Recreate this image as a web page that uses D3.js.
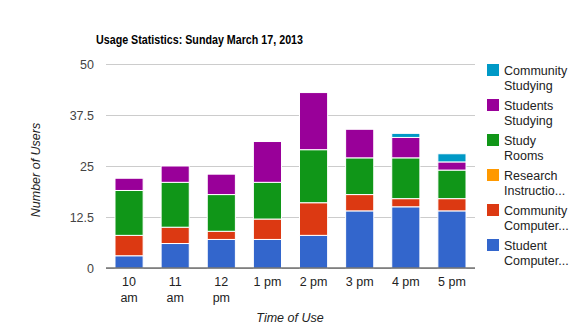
<!DOCTYPE html>
<html><head><meta charset="utf-8">
<script src="https://cdn.jsdelivr.net/npm/d3@7"></script>
<style>body{margin:0;background:#fff}svg{display:block;font-family:"Liberation Sans",Arial,sans-serif}</style>
</head><body><svg id="c" width="580" height="332"></svg>
<script>
const categories = ["10 am","11 am","12 pm","1 pm","2 pm","3 pm","4 pm","5 pm"];
const studentComputers   = [3, 6, 7, 7, 8, 14, 15, 14];
const communityComputers = [5, 4, 2, 5, 8, 4, 2, 3];
const researchInstruction= [0, 0, 0, 0, 0, 0, 0, 0];
const studyRooms         = [11, 11, 9, 9, 13, 9, 10, 7];
const studentsStudying   = [3, 4, 5, 10, 14, 7, 5, 2];
const communityStudying  = [0, 0, 0, 0, 0, 0, 1, 2];
const yTicks = [0, 12.5, 25, 37.5, 50];
const seriesNames = ["Student Computer...","Community Computer...","Research Instructio...","Study Rooms","Students Studying","Community Studying"];
const seriesColors = ["#3366cc","#dc3912","#ff9900","#109618","#990099","#0099c6"];
const seriesData = [studentComputers, communityComputers, researchInstruction, studyRooms, studentsStudying, communityStudying];

const svg = d3.select("#c");
const pL = 106, pR = 475, pT = 64, pB = 268;
const x = d3.scaleBand().domain(categories).range([pL, pR]).paddingInner(0.39).paddingOuter(0.195);
const y = d3.scaleLinear().domain([0, 50]).range([pB, pT]);

// title
svg.append("text").attr("x", 96).attr("y", 44).attr("font-size", 13.5).attr("font-weight", "bold")
  .attr("textLength", 207).attr("lengthAdjust", "spacingAndGlyphs")
  .attr("fill", "#000").text("Usage Statistics: Sunday March 17, 2013");

// gridlines
const ya = svg.append("g").attr("transform", `translate(${pL},0)`)
  .call(d3.axisLeft(y).tickValues(yTicks).tickSize(-(pR - pL)).tickPadding(12).tickFormat(d => d));
ya.select(".domain").remove();
ya.selectAll(".tick line").attr("stroke", "#cccccc");
ya.selectAll(".tick text").attr("font-size", 12.5).attr("fill", "#444").attr("font-family", "Liberation Sans, Arial, sans-serif");

// stacked
const rows = categories.map((c, i) => {
  const o = {cat: c};
  seriesNames.forEach((s, k) => o[s] = seriesData[k][i]);
  return o;
});
const stack = d3.stack().keys(seriesNames)(rows);
stack.forEach((layer, k) => {
  svg.append("g").selectAll("rect").data(layer.filter(d => d[1] - d[0] > 0)).join("rect")
    .attr("x", d => x(d.data.cat)).attr("width", x.bandwidth())
    .attr("y", d => y(d[1])).attr("height", d => y(d[0]) - y(d[1]))
    .attr("fill", seriesColors[k]).attr("stroke", "#fff").attr("stroke-width", 1);
});

// baseline
svg.append("line").attr("x1", pL).attr("x2", pR).attr("y1", y(0)).attr("y2", y(0)).attr("stroke", "#333").attr("stroke-width", 1.2);

// x labels
const xa = svg.append("g");
categories.forEach(c => {
  const parts = c.split(" ");
  const cx = x(c) + x.bandwidth() / 2;
  const t = xa.append("text").attr("text-anchor", "middle").attr("font-size", 12.5).attr("fill", "#222");
  if (c.length > 4) {
    t.append("tspan").attr("x", cx).attr("y", 286).text(parts[0]);
    t.append("tspan").attr("x", cx).attr("y", 302).text(parts[1]);
  } else {
    t.attr("x", cx).attr("y", 286).text(c);
  }
});

// axis titles
svg.append("text").attr("x", 290).attr("y", 322).attr("text-anchor", "middle").attr("font-size", 12.5)
  .attr("font-style", "italic").attr("fill", "#222").text("Time of Use");
svg.append("text").attr("transform", "translate(40,170) rotate(-90)").attr("text-anchor", "middle")
  .attr("font-size", 12.5).attr("font-style", "italic").attr("fill", "#222").text("Number of Users");

// legend (reverse order)
const lg = svg.append("g");
const legendOrder = seriesNames.map((s, k) => k).reverse();
legendOrder.forEach((k, i) => {
  const yy = 64 + i * 35;
  lg.append("rect").attr("x", 487).attr("y", yy).attr("width", 12).attr("height", 12).attr("fill", seriesColors[k]);
  const words = seriesNames[k].split(" ");
  const t = lg.append("text").attr("font-size", 12.5).attr("fill", "#222");
  t.append("tspan").attr("x", 504).attr("y", yy + 10.5).text(words[0]);
  t.append("tspan").attr("x", 504).attr("y", yy + 26.2).text(words[1]);
});
</script></body></html>
